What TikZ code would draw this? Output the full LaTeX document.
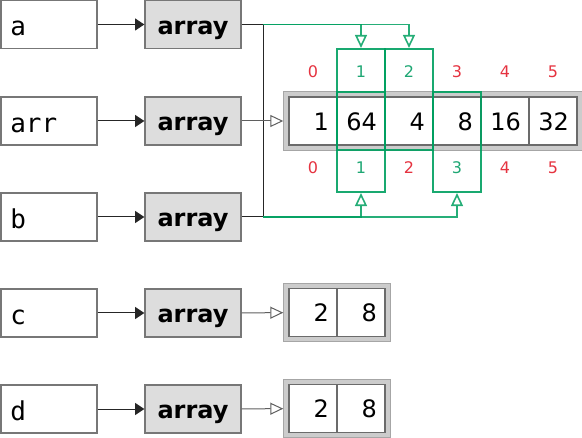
\documentclass[tikz,border=0pt]{standalone}
\usepackage{fontspec}
\setmainfont{DejaVu Sans}
\setmonofont{DejaVu Sans Mono}
\usetikzlibrary{arrows.meta,fit,backgrounds}
\definecolor{gr}{HTML}{00A060}
\definecolor{idxred}{HTML}{E53340}
\definecolor{idxgreen}{HTML}{1FA774}
\definecolor{bgray}{HTML}{777777}
\definecolor{boxfill}{HTML}{DDDDDD}
\definecolor{outerfill}{HTML}{CCCCCC}
\begin{document}
\begin{tikzpicture}[x=0.75pt,y=-0.75pt,
  namebox/.style={draw=bgray, line width=0.9pt, fill=white, minimum width=72pt, minimum height=36pt,
    text width=58pt, inner xsep=7pt, inner ysep=0pt, text height=17.5pt, text depth=0.8pt,
    align=left, font=\ttfamily\fontsize{19.5}{19.5}\selectfont},
  arrbox/.style={draw=bgray, fill=boxfill, line width=0.9pt, minimum width=72pt, minimum height=36pt,
    inner sep=0pt, text height=15.5pt, text depth=0.8pt, font=\bfseries\fontsize{18}{18}\selectfont},
  cell/.style={draw=bgray!90!black, fill=white, line width=0.9pt, minimum width=36pt, minimum height=36pt,
    text width=24pt, inner xsep=6pt, inner ysep=0pt, text height=13.6pt, text depth=0pt,
    align=right, font=\fontsize{18}{18}\selectfont},
  outerbox/.style={draw=gray!70, fill=outerfill, line width=0.9pt, inner sep=3.4pt},
  gbox/.style={draw=gr, line width=1.6pt, draw opacity=0.9, minimum width=36pt, inner sep=0pt},
  idx/.style={font=\fontsize{12}{12}\selectfont, inner sep=0pt},
  red/.style={text=idxred},
  grn/.style={text=idxgreen},
  conn/.style={draw=black!85, line width=0.75pt},
  barrow/.style={conn, -{Triangle[length=7pt,width=9pt]}},
  oarrow/.style={draw=bgray!80!black, line width=0.75pt, -{Triangle[open,length=9.75pt,width=9pt,fill=white]}},
  garrow/.style={draw=gr, line width=1.2pt, draw opacity=0.85, -{Triangle[open,length=9.75pt,width=9pt,fill=white]}},
]
\useasboundingbox (0,0) rectangle (582,438);

% name boxes
\node[namebox] (na) at (49,24.5) {a};
\node[namebox] (narr) at (49,121) {arr};
\node[namebox] (nb) at (49,217) {b};
\node[namebox] (nc) at (49,313) {c};
\node[namebox] (nd) at (49,409) {d};

% array boxes
\node[arrbox] (aa) at (193,24.5) {array};
\node[arrbox] (aarr) at (193,121) {array};
\node[arrbox] (ab) at (193,217) {array};
\node[arrbox] (ac) at (193,313) {array};
\node[arrbox] (ad) at (193,409) {array};

\draw[barrow] (na) -- (aa);
\draw[barrow] (narr) -- (aarr);
\draw[barrow] (nb) -- (ab);
\draw[barrow] (nc) -- (ac);
\draw[barrow] (nd) -- (ad);

% main array
\node[cell] (m0) at (313,121) {1};
\node[cell] (m1) at (361,121) {64};
\node[cell] (m2) at (409,121) {4};
\node[cell] (m3) at (457,121) {8};
\node[cell] (m4) at (505,121) {16};
\node[cell] (m5) at (553,121) {32};
\begin{scope}[on background layer]
  \node[outerbox, fit=(m0)(m5)] (outer) {};
\end{scope}

% c array
\node[cell] (c0) at (313,312.5) {2};
\node[cell] (c1) at (361,312.5) {8};
\begin{scope}[on background layer]
  \node[outerbox, fit=(c0)(c1)] (outerc) {};
\end{scope}

% d array
\node[cell] (d0) at (313,408.5) {2};
\node[cell] (d1) at (361,408.5) {8};
\begin{scope}[on background layer]
  \node[outerbox, fit=(d0)(d1)] (outerd) {};
\end{scope}

% indices top
\node[idx,red] (t0) at (313,72) {0};
\node[idx,grn] (t1) at (361,72) {1};
\node[idx,grn] (t2) at (409,72) {2};
\node[idx,red] (t3) at (457,72) {3};
\node[idx,red] (t4) at (505,72) {4};
\node[idx,red] (t5) at (553,72) {5};
% indices bottom
\node[idx,red] (u0) at (313,168) {0};
\node[idx,grn] (u1) at (361,168) {1};
\node[idx,red] (u2) at (409,168) {2};
\node[idx,grn] (u3) at (457,168) {3};
\node[idx,red] (u4) at (505,168) {4};
\node[idx,red] (u5) at (553,168) {5};

% green view boxes
\node[gbox, minimum height=75.75pt] (ga1) at (361,99.5) {};
\node[gbox, minimum height=75.75pt] (ga2) at (409,99.5) {};
\node[gbox, minimum height=75pt] (gb1) at (361,142) {};
\node[gbox, minimum height=75pt] (gb3) at (457,142) {};

% connectors
\coordinate (ja) at (263,24.5);
\coordinate (jb) at (263,217);
\draw[conn] (aa.east) -- (ja);
\draw[conn] (ab.east) -- (jb);
\draw[conn] (ja) -- (jb);
\draw[garrow] (ja) -| (ga1.north);
\draw[garrow] (ja) -| (ga2.north);
\draw[garrow] (jb) -| (gb1.south);
\draw[garrow] (jb) -| (gb3.south);

\draw[oarrow] (aarr) -- (outer);
\draw[oarrow] (ac) -- (outerc);
\draw[oarrow] (ad) -- (outerd);
\end{tikzpicture}
\end{document}
